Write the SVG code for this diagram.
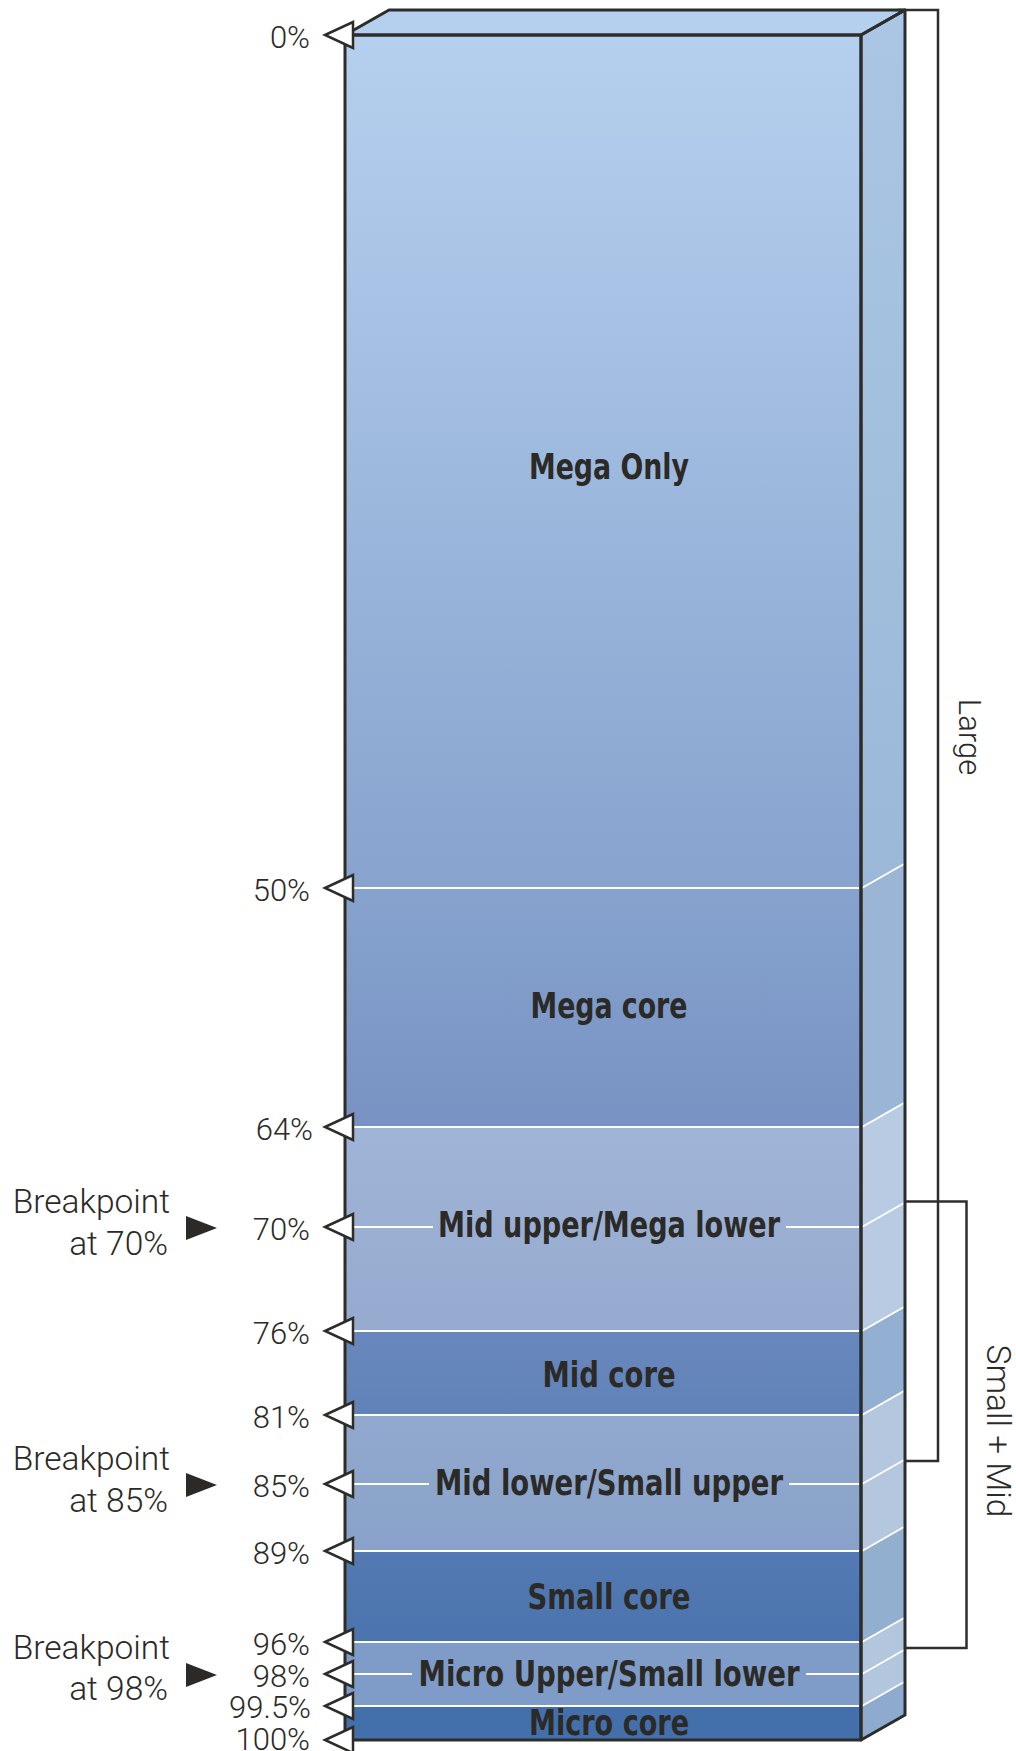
<svg xmlns="http://www.w3.org/2000/svg" width="1016" height="1751" viewBox="0 0 1016 1751">
<style>
.edge{fill:none;stroke:#2c2c2a;stroke-width:3;stroke-linejoin:round}
.wl{stroke:#ffffff;stroke-width:2;fill:none}
.lbl{font-family:"Liberation Sans Narrow","DejaVu Sans Condensed","Liberation Sans",sans-serif;font-weight:bold;font-size:35px;fill:#2b2a27;text-anchor:middle}
.pct{font-family:Roboto,"Liberation Sans",sans-serif;font-weight:300;font-size:31px;fill:#2b2a27;text-anchor:end}
.bp{font-family:Roboto,"Liberation Sans",sans-serif;font-weight:300;font-size:33.5px;fill:#2b2a27;text-anchor:end}
.side{font-family:Roboto,"Liberation Sans",sans-serif;font-weight:300;fill:#2b2a27;text-anchor:middle}
.tri{fill:#ffffff;stroke:#2c2c2a;stroke-width:2.5;stroke-linejoin:miter}
.bpt{fill:#2b2a26}
.br{fill:none;stroke:#2e2e2c;stroke-width:2.5}
</style>
<defs>
<linearGradient id="gMegaOnly" x1="0" y1="0" x2="0" y2="1"><stop offset="0" stop-color="#b5d0ee"/><stop offset="1" stop-color="#87a3ce"/></linearGradient>
<linearGradient id="gMegaOnlyS" x1="0" y1="0" x2="0" y2="1"><stop offset="0" stop-color="#aac6e4"/><stop offset="1" stop-color="#9cb8d8"/></linearGradient>
<linearGradient id="gMegaCore" x1="0" y1="0" x2="0" y2="1"><stop offset="0" stop-color="#86a2cd"/><stop offset="1" stop-color="#7893c3"/></linearGradient>
<linearGradient id="gMidUp" x1="0" y1="0" x2="0" y2="1"><stop offset="0" stop-color="#a0b4d7"/><stop offset="1" stop-color="#96aacf"/></linearGradient>
<linearGradient id="gMidCore" x1="0" y1="0" x2="0" y2="1"><stop offset="0" stop-color="#6888bd"/><stop offset="1" stop-color="#6182b8"/></linearGradient>
<linearGradient id="gMidLow" x1="0" y1="0" x2="0" y2="1"><stop offset="0" stop-color="#91a9ce"/><stop offset="1" stop-color="#89a2c9"/></linearGradient>
<linearGradient id="gSmallCore" x1="0" y1="0" x2="0" y2="1"><stop offset="0" stop-color="#537ab2"/><stop offset="1" stop-color="#4b73ad"/></linearGradient>
</defs>

<g id="box">
  <polygon id="top-face" points="345,35 389,10 905,10 861,35" fill="#b4d0ee"/>
</g>

<g id="band-mega-only">
  <rect x="345" y="35" width="516" height="853" fill="url(#gMegaOnly)"/>
  <polygon points="861,35 905,10 905,863 861,888" fill="url(#gMegaOnlyS)"/>
  <text class="lbl" x="609" y="479" textLength="160" lengthAdjust="spacingAndGlyphs">Mega Only</text>
</g>
<g id="band-mega-core">
  <rect x="345" y="888" width="516" height="239" fill="url(#gMegaCore)"/>
  <polygon points="861,888 905,863 905,1102 861,1127" fill="#9ab5d6"/>
  <text class="lbl" x="609" y="1018" textLength="157" lengthAdjust="spacingAndGlyphs">Mega core</text>
</g>
<g id="band-mid-upper">
  <rect x="345" y="1127" width="516" height="204" fill="url(#gMidUp)"/>
  <polygon points="861,1127 905,1102 905,1306 861,1331" fill="#b8cbe2"/>
  <text class="lbl" x="609" y="1237" textLength="342" lengthAdjust="spacingAndGlyphs">Mid upper/Mega lower</text>
</g>
<g id="band-mid-core">
  <rect x="345" y="1331" width="516" height="84" fill="url(#gMidCore)"/>
  <polygon points="861,1331 905,1306 905,1390 861,1415" fill="#93b0d2"/>
  <text class="lbl" x="609" y="1387" textLength="133" lengthAdjust="spacingAndGlyphs">Mid core</text>
</g>
<g id="band-mid-lower">
  <rect x="345" y="1415" width="516" height="136" fill="url(#gMidLow)"/>
  <polygon points="861,1415 905,1390 905,1526 861,1551" fill="#b4c7df"/>
  <text class="lbl" x="609" y="1495" textLength="348" lengthAdjust="spacingAndGlyphs">Mid lower/Small upper</text>
</g>
<g id="band-small-core">
  <rect x="345" y="1551" width="516" height="91" fill="url(#gSmallCore)"/>
  <polygon points="861,1551 905,1526 905,1617 861,1642" fill="#93afd0"/>
  <text class="lbl" x="609" y="1609" textLength="163" lengthAdjust="spacingAndGlyphs">Small core</text>
</g>
<g id="band-micro-upper">
  <rect x="345" y="1642" width="516" height="64" fill="#7e9cc7"/>
  <polygon points="861,1642 905,1617 905,1681 861,1706" fill="#b2c6de"/>
  <text class="lbl" x="609" y="1686" textLength="381" lengthAdjust="spacingAndGlyphs">Micro Upper/Small lower</text>
</g>
<g id="band-micro-core">
  <rect x="345" y="1706" width="516" height="34" fill="#436faa"/>
  <polygon points="861,1706 905,1681 905,1715 861,1740" fill="#8eaace"/>
  <text class="lbl" x="609" y="1735" textLength="160" lengthAdjust="spacingAndGlyphs">Micro core</text>
</g>

<g id="divider-lines">
  <path class="wl" d="M347,888H859 M347,1127H859 M347,1331H859 M347,1415H859 M347,1551H859 M347,1642H859 M347,1706H859"/>
  <path class="wl" d="M347,1227H433 M786,1227H859 M347,1484H429 M789,1484H859 M347,1674H412 M806,1674H859"/>
  <path class="wl" d="M862,888L904,864 M862,1127L904,1103 M862,1227L904,1203 M862,1331L904,1307 M862,1415L904,1391 M862,1484L904,1460 M862,1551L904,1527 M862,1642L904,1618 M862,1674L904,1650 M862,1706L904,1682"/>
</g>

<g id="box-outline">
  <rect class="edge" x="345" y="35" width="516" height="1705"/>
  <polygon class="edge" points="345,35 389,10 905,10 861,35"/>
  <polygon class="edge" points="861,35 905,10 905,1715 861,1740"/>
</g>

<g id="percent-markers">
  <polygon class="tri" points="325,35 353,22 353,48"/>
  <polygon class="tri" points="325,888 353,875 353,901"/>
  <polygon class="tri" points="325,1127 353,1114 353,1140"/>
  <polygon class="tri" points="325,1227 353,1214 353,1240"/>
  <polygon class="tri" points="325,1331 353,1318 353,1344"/>
  <polygon class="tri" points="325,1415 353,1402 353,1428"/>
  <polygon class="tri" points="325,1484 353,1471 353,1497"/>
  <polygon class="tri" points="325,1551 353,1538 353,1564"/>
  <polygon class="tri" points="325,1642 353,1629 353,1655"/>
  <polygon class="tri" points="325,1674 353,1661 353,1687"/>
  <polygon class="tri" points="325,1706 353,1693 353,1719"/>
  <polygon class="tri" points="325,1740 353,1727 353,1753"/>
  <text class="pct" x="310" y="48">0%</text>
  <text class="pct" x="310" y="901">50%</text>
  <text class="pct" x="313" y="1140">64%</text>
  <text class="pct" x="310" y="1240">70%</text>
  <text class="pct" x="310" y="1344">76%</text>
  <text class="pct" x="310" y="1428">81%</text>
  <text class="pct" x="310" y="1497">85%</text>
  <text class="pct" x="310" y="1564">89%</text>
  <text class="pct" x="310" y="1655">96%</text>
  <text class="pct" x="310" y="1687">98%</text>
  <text class="pct" x="311" y="1718">99.5%</text>
  <text class="pct" x="310" y="1750">100%</text>
</g>

<g id="breakpoint-70">
  <text class="bp" x="170" y="1213">Breakpoint</text>
  <text class="bp" x="168" y="1255">at 70%</text>
  <polygon class="bpt" points="186,1216 217,1228 186,1240"/>
</g>
<g id="breakpoint-85">
  <text class="bp" x="170" y="1470">Breakpoint</text>
  <text class="bp" x="168" y="1512">at 85%</text>
  <polygon class="bpt" points="186,1473 217,1485 186,1497"/>
</g>
<g id="breakpoint-98">
  <text class="bp" x="170" y="1659">Breakpoint</text>
  <text class="bp" x="168" y="1700">at 98%</text>
  <polygon class="bpt" points="186,1663 217,1675 186,1687"/>
</g>

<g id="connectors">
  <path class="br" d="M898,10H938V1461H905"/>
  <path class="br" d="M905,1201.5H966.5V1648H905"/>
</g>
<g id="label-large">
  <text class="side" font-size="31" transform="translate(959,737) rotate(90)">Large</text>
</g>
<g id="label-small-mid">
  <text class="side" font-size="33.5" transform="translate(987,1431) rotate(90)">Small + Mid</text>
</g>
</svg>
